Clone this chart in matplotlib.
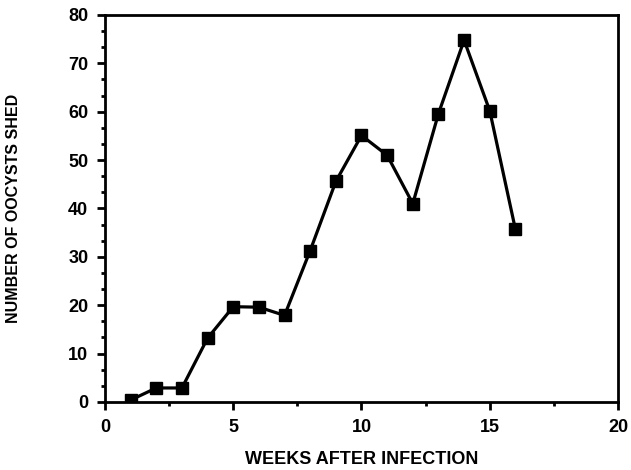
import numpy as np
import matplotlib.pyplot as plt
from matplotlib.ticker import MultipleLocator

# weeks after infection and oocysts shed
weeks = [1, 2, 3, 4, 5, 6, 7, 8, 9, 10, 11, 12, 13, 14, 15, 16]
oocysts = [0.4, 2.9, 2.9, 13.2, 19.7, 19.6, 17.9, 31.3, 45.6, 55.1, 51.0, 41.0, 59.6, 74.8, 60.2, 35.7]

plt.rcParams['font.family'] = ['Liberation Sans', 'DejaVu Sans']
plt.rcParams['font.weight'] = 'bold'

fig = plt.figure(figsize=(6.31, 4.70), dpi=100)
ax = fig.add_axes([0.1664, 0.1447, 0.8130, 0.8234])

ax.plot(weeks, oocysts, color="black", linewidth=2.3, marker="s", markersize=8.5)

ax.set_xlim(0, 20)
ax.set_ylim(0, 80)
ax.xaxis.set_major_locator(MultipleLocator(5))
ax.xaxis.set_minor_locator(MultipleLocator(2.5))
ax.yaxis.set_major_locator(MultipleLocator(10))
ax.yaxis.set_minor_locator(MultipleLocator(10 / 3))

for s in ax.spines.values():
    s.set_linewidth(2)
ax.tick_params(which="major", length=6, width=2, labelsize=13, pad=6)
ax.tick_params(which="minor", length=3, width=2)

ax.set_xlabel("WEEKS AFTER INFECTION", fontsize=13, fontweight="bold", labelpad=11)
ax.set_ylabel("NUMBER OF OOCYSTS SHED", fontsize=11.5, fontweight="bold", labelpad=34)

plt.savefig("out.png", dpi=100)
